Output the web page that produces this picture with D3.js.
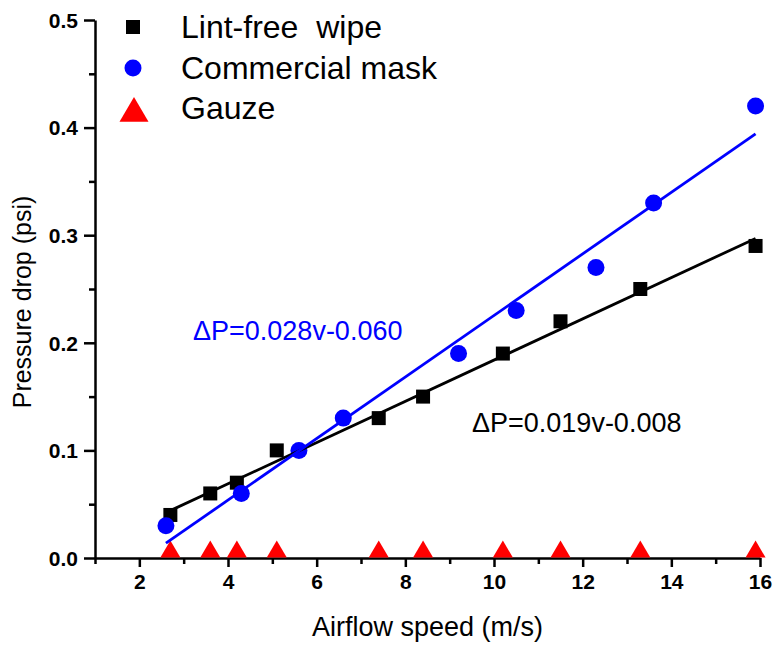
<!DOCTYPE html>
<html>
<head>
<meta charset="utf-8">
<script src="https://cdn.jsdelivr.net/npm/d3@7"></script>
<style>
  body { margin: 0; background: #fff; }
  text { font-family: Arial, "Liberation Sans", sans-serif; }
</style>
</head>
<body>
<div id="chart"></div>
<script>
// airflow speed (m/s) and pressure drop (psi)
const wipeSpeed = [2.7, 3.6, 4.2, 5.1, 7.4, 8.4, 10.2, 11.5, 13.3, 15.9]
const wipeDrop  = [0.04, 0.06, 0.07, 0.10, 0.13, 0.15, 0.19, 0.22, 0.25, 0.29]

const maskSpeed = [2.6, 4.3, 5.6, 6.6, 9.2, 10.5, 12.3, 13.6, 15.9]
const maskDrop  = [0.03, 0.06, 0.10, 0.13, 0.19, 0.23, 0.27, 0.33, 0.42]

const gauzeSpeed = [2.7, 3.6, 4.2, 5.1, 7.4, 8.4, 10.2, 11.5, 13.3, 15.9]
const gauzeDrop  = [0.006, 0.006, 0.006, 0.006, 0.006, 0.006, 0.006, 0.006, 0.006, 0.006]

const legendNames = ["Lint-free  wipe", "Commercial mask", "Gauze"]
const fitLabels = ["\u0394P=0.019v-0.008", "\u0394P=0.028v-0.060"]

const xMajor = [2, 4, 6, 8, 10, 12, 14, 16]
const xMinor = [1, 3, 5, 7, 9, 11, 13, 15]
const yMajor = [0, 0.1, 0.2, 0.3, 0.4, 0.5]
const yMinor = [0.05, 0.15, 0.25, 0.35, 0.45]

const w = 775, h = 646

const svg = d3.select("#chart").append("svg")
  .attr("width", w)
  .attr("height", h)

const x = d3.scaleLinear().domain([1, 16]).range([95, 760])
const y = d3.scaleLinear().domain([0, 0.5]).range([558, 20])

// least squares fit
function fit(xs, ys) {
  const mx = d3.mean(xs), my = d3.mean(ys)
  let sxy = 0, sxx = 0
  xs.forEach((v, i) => { sxy += (v - mx) * (ys[i] - my); sxx += (v - mx) * (v - mx) })
  const k = sxy / sxx
  return [k, my - k * mx]
}

const zip = (a, b) => a.map((v, i) => [v, b[i]])
const wipe = zip(wipeSpeed, wipeDrop)
const mask = zip(maskSpeed, maskDrop)
const gauze = zip(gauzeSpeed, gauzeDrop)

// axes
const yAxis = svg.append("g").attr("transform", "translate(" + x(1) + ",0)")
  .call(d3.axisLeft(y).tickValues(yMajor).tickFormat(d3.format(".1f")).tickSize(11).tickSizeOuter(0))
yAxis.append("g")
  .call(d3.axisLeft(y).tickValues(yMinor).tickFormat("").tickSize(6).tickSizeOuter(0))
  .select(".domain").remove()

const xAxis = svg.append("g").attr("transform", "translate(0," + y(0) + ")")
  .call(d3.axisBottom(x).tickValues(xMajor).tickFormat(d3.format("d")).tickSize(9).tickSizeOuter(0))
xAxis.append("g")
  .call(d3.axisBottom(x).tickValues(xMinor).tickFormat("").tickSize(6).tickSizeOuter(0))
  .select(".domain").remove()

svg.selectAll(".domain").attr("stroke", "#000").attr("stroke-width", 2.5)
svg.selectAll(".tick line").attr("stroke", "#000").attr("stroke-width", 2.5)
yAxis.selectAll(".tick text")
  .attr("x", -17).attr("dy", "0.35em")
  .style("font-size", "21px").style("font-weight", "bold").attr("fill", "#000")
xAxis.selectAll(".tick text")
  .attr("y", 16).attr("dy", "0.71em")
  .style("font-size", "21px").style("font-weight", "bold").attr("fill", "#000")

// axis titles
svg.append("text")
  .attr("x", (x(1) + x(16)) / 2)
  .attr("y", 636)
  .attr("text-anchor", "middle")
  .style("font-size", "27px")
  .text("Airflow speed (m/s)")

svg.append("text")
  .attr("transform", "translate(31," + 302 + ") rotate(-90)")
  .attr("text-anchor", "middle")
  .style("font-size", "25px")
  .text("Pressure drop (psi)")

// markers
const tri = (cx, cy, s) => "M" + cx + "," + (cy - s * 1.1) + "L" + (cx + s) + "," + (cy + s * 0.6) + "L" + (cx - s) + "," + (cy + s * 0.6) + "Z"

svg.append("g").selectAll("rect")
  .data(wipe).enter().append("rect")
  .attr("x", d => x(d[0]) - 7)
  .attr("y", d => y(d[1]) - 7)
  .attr("width", 14).attr("height", 14)
  .attr("fill", "#000")

svg.append("g").selectAll("circle")
  .data(mask).enter().append("circle")
  .attr("cx", d => x(d[0]))
  .attr("cy", d => y(d[1]))
  .attr("r", 8.5)
  .attr("fill", "#0000ff")

svg.append("g").selectAll("path")
  .data(gauze).enter().append("path")
  .attr("d", d => tri(x(d[0]), y(d[1]), 10))
  .attr("fill", "#ff0000")

// fit lines
const fits = [[wipe, "#000"], [mask, "#0000ff"]]
fits.forEach(function(f) {
  const pts = f[0]
  const c = fit(pts.map(d => d[0]), pts.map(d => d[1]))
  const ends = d3.extent(pts, d => d[0]).map(v => [v, c[0] * v + c[1]])
  svg.append("path")
    .attr("d", d3.line().x(d => x(d[0])).y(d => y(d[1]))(ends))
    .attr("stroke", f[1])
    .attr("stroke-width", 2.8)
    .attr("fill", "none")
})

// fit equations
svg.append("text")
  .attr("x", 193).attr("y", 340)
  .style("font-size", "27px").attr("fill", "#0000ff")
  .text(fitLabels[1])
svg.append("text")
  .attr("x", 472).attr("y", 432)
  .style("font-size", "27px").attr("fill", "#000")
  .text(fitLabels[0])

// legend
const leg = svg.append("g")
leg.selectAll("text")
  .data(legendNames).enter().append("text")
  .attr("x", 181)
  .attr("y", (d, i) => 38 + i * 40.5)
  .style("font-size", "32px")
  .style("white-space", "pre")
  .text(d => d)
leg.append("rect").attr("x", 126).attr("y", 20).attr("width", 14).attr("height", 14).attr("fill", "#000")
leg.append("circle").attr("cx", 133).attr("cy", 68).attr("r", 8.5).attr("fill", "#0000ff")
leg.append("path").attr("d", tri(134, 113, 14.5)).attr("fill", "#ff0000")
</script>
</body>
</html>
